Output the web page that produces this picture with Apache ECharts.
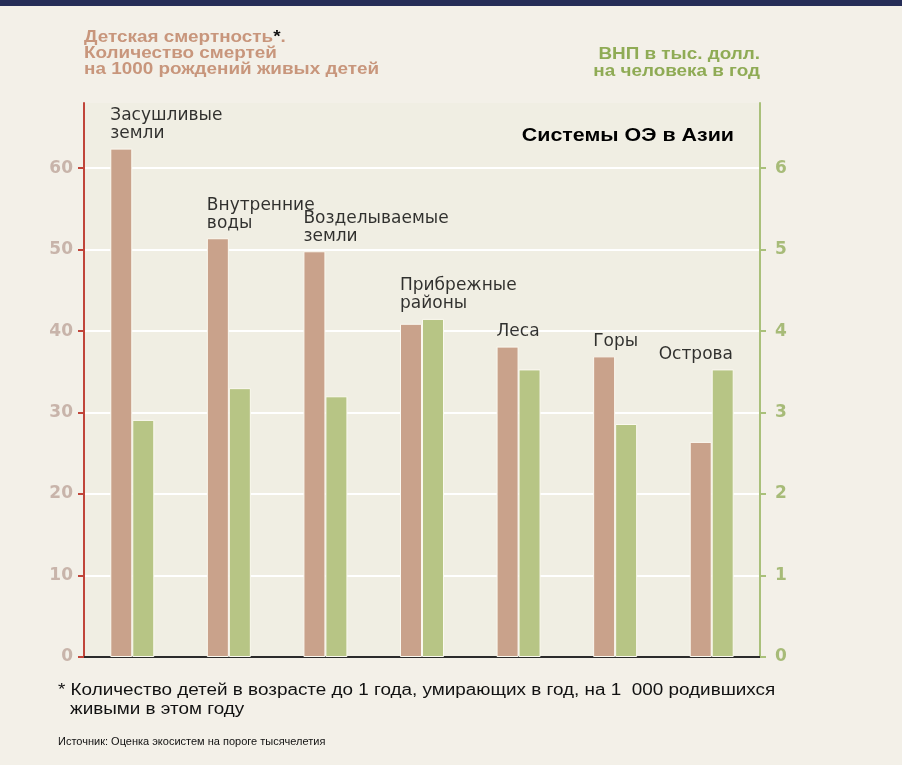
<!DOCTYPE html>
<html><head><meta charset="utf-8">
<script src="https://cdn.jsdelivr.net/npm/echarts@6/dist/echarts.min.js"></script>
<style>html,body{margin:0;padding:0;background:#f3f0e8;}#c{width:902px;height:765px;}</style>
</head><body><div id="c"></div>
<script>
const categories = ['Засушливые\nземли', 'Внутренние\nводы', 'Возделываемые\nземли', 'Прибрежные\nрайоны', 'Леса', 'Горы', 'Острова'];
const mortality = [62.4, 51.4, 49.8, 40.9, 38.1, 36.9, 26.4];
const gnp = [2.91, 3.30, 3.20, 4.15, 3.53, 2.86, 3.53];
const leftTicks = [0, 10, 20, 30, 40, 50, 60];
const rightTicks = [0, 1, 2, 3, 4, 5, 6];

const RATIO = 10;
const FONT = 'Liberation Sans, Arial, sans-serif';
const WIDE = 'DejaVu Sans, sans-serif';
const chart = echarts.init(document.getElementById('c'), null, {renderer: 'canvas'});
const labelTops = categories.map((c, i) => {
  const item = {value: [i, Math.max(mortality[i], gnp[i] * RATIO)]};
  if (i === categories.length - 1) item.label = {offset: [-53, 0]};
  return item;
});
function txt(x, y, sx, style) {
  return {type: 'text', x: x, y: y, scaleX: sx, silent: true,
    style: Object.assign({x: 0, y: 0, verticalAlign: 'top'}, style)};
}
chart.setOption({
  backgroundColor: '#f3f0e8',
  animation: false,
  grid: {left: 84, right: 142, top: 103, bottom: 108, show: true, backgroundColor: '#f0eee3', borderWidth: 0},
  xAxis: {
    type: 'category', data: categories,
    axisLine: {lineStyle: {color: '#2b2b2b', width: 2}},
    axisTick: {show: false}, axisLabel: {show: false}
  },
  yAxis: [{
    type: 'value', min: 0, max: 68, interval: 10,
    axisLine: {show: true, lineStyle: {color: '#c0453a', width: 2}},
    axisTick: {show: true, length: 6, lineStyle: {color: '#c0453a', width: 2}, customValues: leftTicks},
    axisLabel: {customValues: leftTicks, margin: 11, color: '#c8b4aa', fontWeight: 'bold', fontSize: 17, fontFamily: WIDE},
    splitLine: {show: true, lineStyle: {color: '#ffffff', width: 2}}
  }, {
    type: 'value', min: 0, max: 6.8, interval: 1, position: 'right',
    axisLine: {show: true, lineStyle: {color: '#a9c07a', width: 2}},
    axisTick: {show: true, length: 6, lineStyle: {color: '#a9c07a', width: 2}, customValues: rightTicks},
    axisLabel: {customValues: rightTicks, margin: 15, color: '#a7bb78', fontWeight: 'bold', fontSize: 17, fontFamily: WIDE},
    splitLine: {show: false}
  }],
  series: [{
    type: 'bar', yAxisIndex: 0, data: mortality, barWidth: 22, barGap: '0%',
    itemStyle: {color: '#c9a28b', borderColor: '#fbf9f0', borderWidth: 1}
  }, {
    type: 'bar', yAxisIndex: 1, data: gnp, barWidth: 22, barGap: '0%',
    itemStyle: {color: '#b7c585', borderColor: '#fbf9f0', borderWidth: 1}
  }, {
    type: 'scatter', yAxisIndex: 0, symbolSize: 0, data: labelTops, silent: true,
    label: {
      show: true, position: 'top', distance: 6, align: 'left', offset: [-22, 0],
      formatter: p => categories[p.dataIndex],
      color: '#000', fontSize: 17, lineHeight: 18, fontFamily: WIDE
    }
  }],
  graphic: [
    {type: 'rect', left: 0, top: 0, shape: {width: 902, height: 6}, style: {fill: '#262d57'}},
    txt(84, 30, 1.18, {
      text: '{a|Детская смертность}{b|*}{a|.}\n{a|Количество смертей}\n{a|на 1000 рождений живых детей}',
      rich: {a: {fontSize: 16, fontWeight: 'bold', fill: '#c8967c', fontFamily: FONT, lineHeight: 16},
             b: {fontSize: 16, fontWeight: 'bold', fill: '#111', fontFamily: FONT, lineHeight: 16}}
    }),
    txt(760, 46, 1.18, {
      text: 'ВНП в тыс. долл.\nна человека в год', align: 'right',
      font: 'bold 16px ' + FONT, fill: '#8fab55', lineHeight: 17
    }),
    txt(734, 127, 1.19, {
      text: 'Системы ОЭ в Азии', align: 'right', font: 'bold 18px ' + FONT, fill: '#000'
    }),
    txt(58, 682, 1.18, {
      text: '* Количество детей в возрасте до 1 года, умирающих в год, на 1  000 родившихся',
      font: '16px ' + FONT, fill: '#111', lineHeight: 18
    }),
    txt(70, 701, 1.18, {
      text: 'живыми в этом году', font: '16px ' + FONT, fill: '#111', lineHeight: 18
    }),
    txt(58, 736, 1.0, {
      text: 'Источник: Оценка экосистем на пороге тысячелетия', font: '11px ' + FONT, fill: '#111'
    })
  ]
});
</script></body></html>
